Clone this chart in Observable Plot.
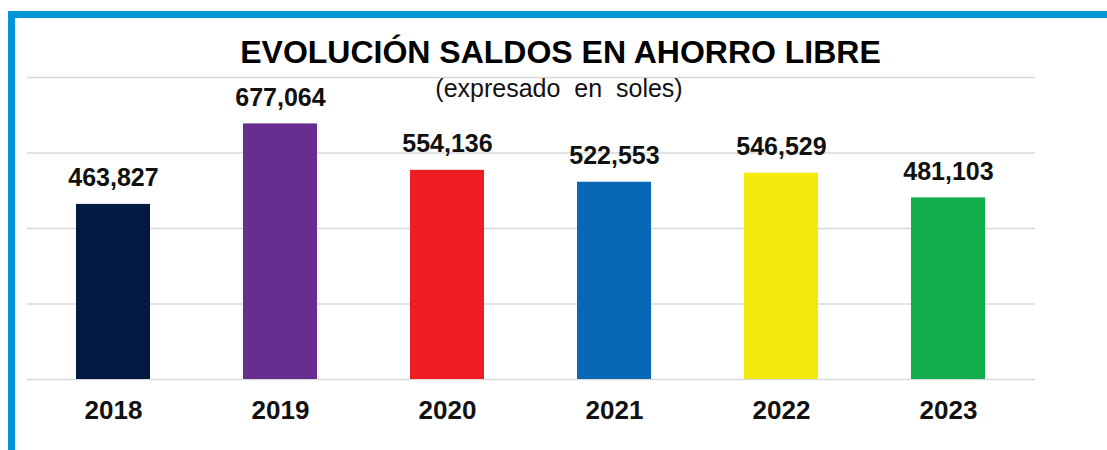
<!DOCTYPE html>
<html>
<head>
<meta charset="utf-8">
<script src="https://cdn.jsdelivr.net/npm/d3@7"></script>
<script src="https://cdn.jsdelivr.net/npm/@observablehq/plot@0.6"></script>
<style>
  html, body { margin: 0; padding: 0; background: #fff; }
  #wrap { position: relative; width: 1107px; height: 450px; overflow: hidden; font-family: "Liberation Sans", Arial, sans-serif; }
  #border { position: absolute; left: 8px; top: 11px; right: -10px; bottom: -10px; border-top: 7px solid #0096d6; border-left: 7px solid #0096d6; }
  #title { position: absolute; left: 0; width: 1121px; top: 36px; text-align: center; font-weight: bold; font-size: 32px; line-height: 32px; color: #000; white-space: pre; }
  #subtitle { position: absolute; left: 0; width: 1118px; top: 76px; text-align: center; font-size: 25px; line-height: 25px; color: #111; white-space: pre; }
  #chart { position: absolute; left: 0; top: 0; }
</style>
</head>
<body>
<div id="wrap">
  <div id="border"></div>
  <div id="chart"></div>
  <div id="title">EVOLUCIÓN SALDOS EN AHORRO LIBRE</div>
  <div id="subtitle">(expresado  en  soles)</div>
</div>
<script>
const years = ["2018", "2019", "2020", "2021", "2022", "2023"];
const saldos = [463827, 677064, 554136, 522553, 546529, 481103];
const colores = ["#021942", "#672d8f", "#ee1d23", "#0868b6", "#f4ea0c", "#14ad4b"];
const yTicks = [0, 200000, 400000, 600000, 800000];

const data = years.map((y, i) => ({ year: y, value: saldos[i], color: colores[i] }));
const fmt = d3.format(",");

const chart = Plot.plot({
  width: 1107,
  height: 450,
  marginLeft: 27,
  marginRight: 72,
  marginTop: 77,
  marginBottom: 71,
  style: { fontFamily: "'Liberation Sans', Arial, sans-serif", background: "transparent", overflow: "visible" },
  x: { domain: years, paddingInner: 0.554, paddingOuter: 0.287, label: null },
  y: { domain: [0, 800000], label: null },
  marks: [
    Plot.gridY(yTicks, { stroke: "#d9d9d9", strokeOpacity: 1, strokeWidth: 1.5 }),
    Plot.barY(data, { x: "year", y: "value", fill: "color" }),
    Plot.text(data, {
      x: "year", y: "value", text: d => fmt(d.value),
      lineAnchor: "bottom", dy: -18, fontSize: 25, fontWeight: "bold", fill: "#111"
    }),
    Plot.axisX({ tickSize: 0, tickPadding: 21, fontSize: 26, fontWeight: "bold", fill: "#111", label: null }),
    Plot.axisY({ ticks: [], label: null })
  ]
});
document.getElementById("chart").appendChild(chart);
</script>
</body>
</html>
